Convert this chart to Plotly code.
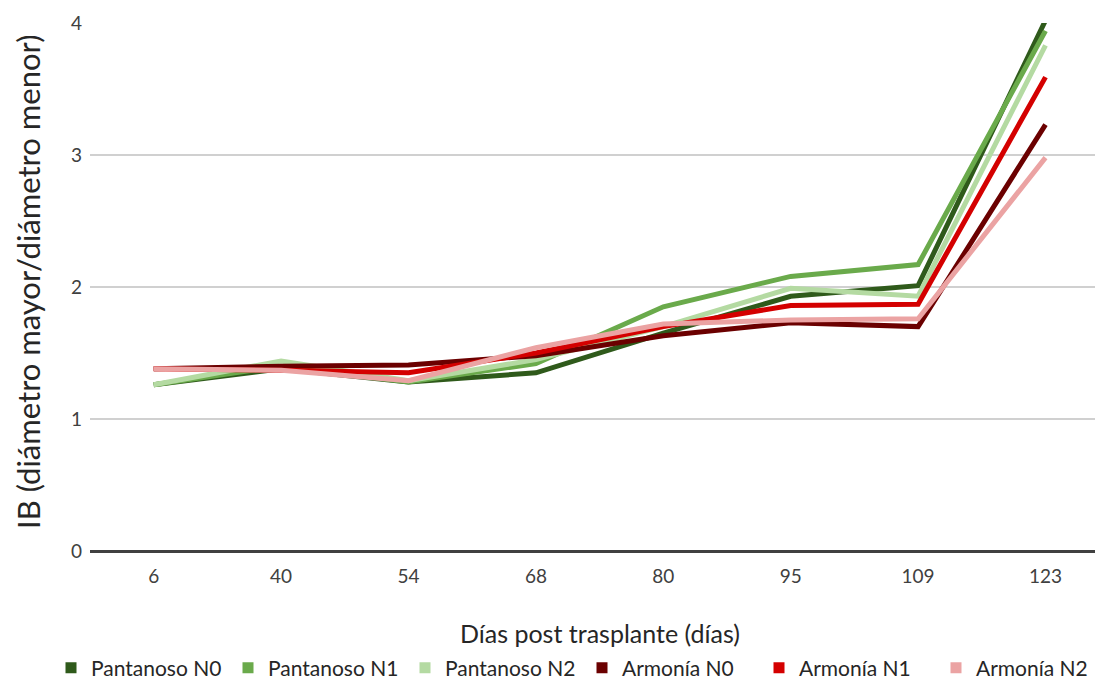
import plotly.graph_objects as go

dias = ["6", "40", "54", "68", "80", "95", "109", "123"]
pantanoso_n0 = [1.26, 1.38, 1.28, 1.35, 1.65, 1.93, 2.01, 4.02]
pantanoso_n1 = [1.26, 1.40, 1.28, 1.42, 1.85, 2.08, 2.17, 3.94]
pantanoso_n2 = [1.26, 1.44, 1.29, 1.45, 1.70, 1.99, 1.93, 3.83]
armonia_n0 = [1.38, 1.40, 1.41, 1.48, 1.63, 1.73, 1.70, 3.23]
armonia_n1 = [1.38, 1.37, 1.35, 1.50, 1.70, 1.86, 1.87, 3.59]
armonia_n2 = [1.38, 1.37, 1.29, 1.54, 1.72, 1.75, 1.76, 2.98]

series_names = ["Pantanoso N0", "Pantanoso N1", "Pantanoso N2",
                "Armonía N0", "Armonía N1", "Armonía N2"]
series_values = [pantanoso_n0, pantanoso_n1, pantanoso_n2,
                 armonia_n0, armonia_n1, armonia_n2]
colors = ["#2F5A1B", "#6AAA4B", "#B4DAA2", "#6B0000", "#D40000", "#EBA3A3"]

x_title = "Días post trasplante (días)"
y_title = "IB (diámetro mayor/diámetro menor)"

fig = go.Figure()
for name, vals, col in zip(series_names, series_values, colors):
    fig.add_trace(go.Scatter(x=list(range(len(dias))), y=vals, mode="lines",
                             line=dict(color=col, width=5), name=name,
                             showlegend=False, cliponaxis=False))
for name, col in zip(series_names, colors):
    fig.add_trace(go.Scatter(x=[None], y=[None], mode="markers",
                             marker=dict(symbol="square", color=col, size=11),
                             name=name, showlegend=True))

W, H = 1103, 684
L, T, B = 82, 15, 141
PW, PH = W - L, H - T - B

fig.update_layout(
    width=W, height=H,
    margin=dict(l=L, r=0, t=T, b=B, autoexpand=False),
    plot_bgcolor="white", paper_bgcolor="white",
    font=dict(family="Lato", color="#262626"),
    showlegend=True,
    legend=dict(orientation="h", x=(43 - L) / PW, xanchor="left",
                y=(PH + T - 660) / PH, yanchor="middle",
                font=dict(size=21, color="#262626"), itemwidth=30,
                entrywidth=132, entrywidthmode="pixels",
                tracegroupgap=0),
    xaxis=dict(tickmode="array", tickvals=list(range(len(dias))), ticktext=dias,
               range=[-0.5, PW / 127.4 - 0.5],
               showgrid=False, zeroline=False, automargin=False,
               showline=False, ticks="",
               ticklabelstandoff=12,
               tickfont=dict(size=19, color="#404040")),
    yaxis=dict(range=[0, 4], tickvals=[0, 1, 2, 3, 4], automargin=False,
               showgrid=True, gridcolor="#D0D0D0", gridwidth=1.5,
               zeroline=True, zerolinecolor="#404040", zerolinewidth=2.5,
               ticks="", tickfont=dict(size=19, color="#404040"),
               ticklabelstandoff=7),
    annotations=[
        dict(text=x_title, xref="paper", yref="paper",
             x=(592 - L) / PW, y=(PH + T - 625) / PH,
             xanchor="center", yanchor="middle", showarrow=False,
             font=dict(size=25, color="#262626")),
        dict(text=y_title, xref="paper", yref="paper",
             x=(20 - L) / PW, y=(PH + T - 274) / PH, textangle=-90,
             xanchor="center", yanchor="middle", showarrow=False,
             font=dict(size=31, color="#262626")),
    ],
)

fig.write_html("out.html")
